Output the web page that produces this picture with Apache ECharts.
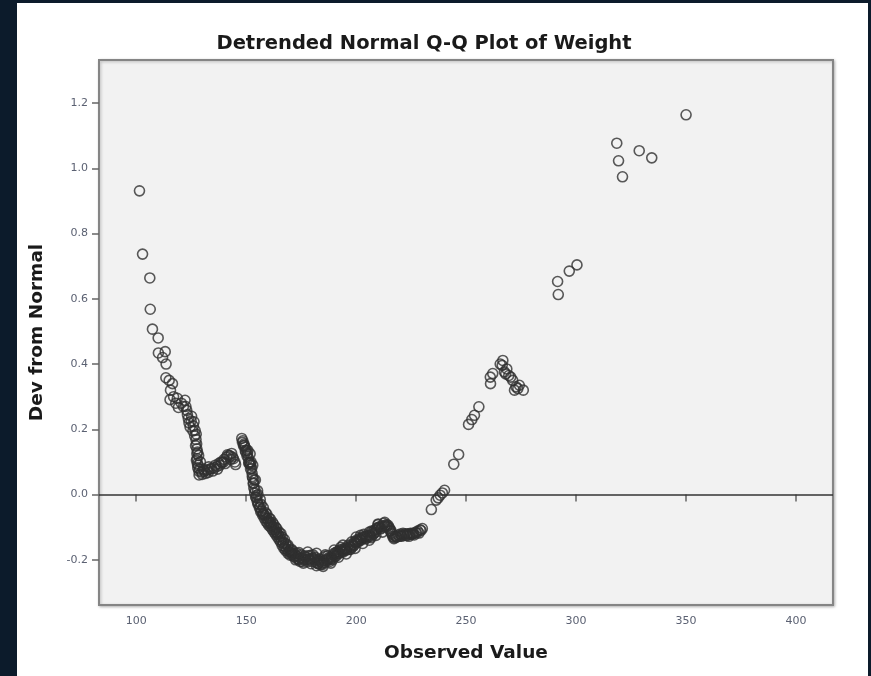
<!DOCTYPE html>
<html>
<head>
<meta charset="utf-8">
<script src="https://cdn.jsdelivr.net/npm/echarts@6/dist/echarts.min.js"></script>
<style>
  html, body { margin: 0; padding: 0; background: #0c1b2b; width: 871px; height: 676px; overflow: hidden; }
  #chart { position: absolute; left: 17px; top: 3px; width: 851px; height: 673px; background: #ffffff; }
</style>
</head>
<body>
<div id="chart"></div>
<script>
// Observed weights (x) and deviation from normal (y)
const observedValues = [
  101.5, 102.9, 106.2, 106.4, 107.4, 110.0, 110.1, 113.2, 113.6, 113.5, 115.0, 115.6, 115.4, 117.0, 118.7,
  119.2, 120.5, 122.2, 123.0, 123.7, 124.5, 125.2, 126.3, 126.8, 127.2,
  127.5, 127.6, 127.6, 127.7, 127.8, 128.0, 128.5, 129.8, 131.0, 132.3, 133.5, 134.3, 135.5, 136.8, 138.1,
  139.0, 140.0, 141.1, 142.2, 143.4, 144.2, 144.9,
  148.0, 148.5, 149.0, 149.5, 150.2, 150.6, 151.0, 151.5, 152.0, 152.5, 152.7, 153.0, 153.2, 153.5, 153.9,
  154.3, 155.0, 155.6, 156.3, 157.0, 157.8, 158.5, 159.3, 160.0, 160.8, 161.5, 162.3, 163.0, 163.8, 164.5,
  165.3, 166.0, 166.8, 167.6, 168.5, 169.5, 170.4, 171.4, 172.5, 173.6, 174.8, 175.9, 177.0, 178.2, 179.3,
  180.4, 181.4, 182.3, 183.2, 184.2, 185.3, 186.5, 187.6, 188.8, 189.8, 190.7, 191.6, 192.6, 193.7, 194.8,
  196.0, 197.1, 198.2, 199.3, 200.4, 201.6, 202.8, 203.9, 205.0, 206.2, 207.3, 208.4, 209.5, 210.7, 211.9,
  213.2, 214.5, 215.3, 216.0, 216.7, 217.8, 219.0, 220.1, 221.3, 222.4, 223.5, 224.7, 225.8, 227.0, 228.0,
  229.1, 230.1,
  149.2, 151.8, 154.8, 158.0, 161.0, 164.0, 167.0, 170.0, 173.0, 176.5, 180.0, 183.5, 187.0, 190.0, 193.0,
  196.5, 200.0, 203.5, 207.0, 210.0, 214.0, 218.5, 223.0,
  150.8, 152.2, 153.6, 155.4, 156.8, 158.8, 160.4, 162.0, 163.4, 165.0, 166.4, 168.0, 169.0, 171.0, 172.0,
  174.0, 175.0, 177.5, 179.0, 181.0, 182.8, 184.8, 186.0, 188.0, 189.3, 191.0, 192.2, 194.2, 195.5, 197.5,
  199.0, 201.0, 202.2, 204.5, 206.8, 208.9, 211.2, 212.5, 215.6, 217.2, 220.7, 224.0, 226.4, 228.6,
  148.8, 149.6, 150.4, 151.2, 152.0, 152.8, 153.4, 154.0, 154.6, 155.3, 156.0, 156.6, 157.4, 158.2, 159.0,
  159.7, 160.4, 161.2, 162.0, 162.7, 163.4, 164.2, 165.0, 165.7, 166.4, 167.2, 168.0, 169.0, 170.0,
  170.8, 171.8, 172.8, 173.8, 174.5, 175.5, 176.2, 177.8, 178.6, 179.8, 180.8, 181.8, 182.6, 183.8, 184.6,
  185.6, 186.8, 187.4, 188.4, 189.0, 190.3, 191.3, 192.0, 193.4, 194.5, 195.2, 196.8, 197.8, 198.8, 199.8,
  200.8, 201.8, 203.2, 204.2, 205.5, 206.5, 207.8, 208.2, 209.2, 210.2, 211.5, 212.8, 213.8, 214.9, 215.8,
  216.4, 217.5, 218.4, 219.6, 220.5, 221.8, 223.0, 224.2, 225.3, 226.0, 227.5, 229.5,
  151.8, 153.0, 154.2, 155.2, 156.4, 157.8, 159.4, 161.0, 162.6, 164.0, 165.8, 167.4, 169.0, 170.6,
  172.5, 176.0, 179.5, 182.0, 185.0, 188.5, 192.0, 195.5, 199.5, 203.0, 206.0, 209.0, 212.0,
  174.0, 178.0, 182.0, 186.0, 190.0, 194.0, 198.0, 202.0, 206.0, 210.0, 213.0,
  127.3, 127.9, 128.2, 126.0, 121.5, 118.0, 124.0, 116.5, 112.0, 130.5, 132.8, 137.5, 139.8, 142.8,
  148.3, 149.8, 151.3,
  128.8, 129.2, 128.4, 128.6, 130.0, 131.6, 133.0, 134.8, 136.0, 137.0, 138.6, 140.5, 141.5, 143.0, 143.8,
  145.2, 126.6, 127.0, 127.4, 125.8, 125.0, 123.3, 122.6,
  234.2, 236.4, 237.3, 238.2, 239.2, 240.2, 244.4, 246.6, 251.1, 252.6, 253.8, 255.8, 261.1, 261.0, 262.1,
  266.7, 266.4, 267.4, 268.5, 269.4, 270.3, 271.2, 272.0, 272.7, 274.2, 276.0, 265.5, 268.0, 273.5,
  291.9, 291.6, 296.9, 300.4, 318.5, 319.3, 321.1, 328.7, 334.4, 350.0
];
const devFromNormal = [
  0.931, 0.737, 0.664, 0.568, 0.507, 0.480, 0.434, 0.438, 0.400, 0.358, 0.350, 0.320, 0.291, 0.300, 0.295,
  0.267, 0.280, 0.289, 0.258, 0.233, 0.207, 0.240, 0.223, 0.197, 0.169,
  0.155, 0.140, 0.125, 0.110, 0.095, 0.082, 0.072, 0.069, 0.072, 0.075, 0.078, 0.080, 0.082, 0.086, 0.090,
  0.098, 0.108, 0.115, 0.120, 0.126, 0.110, 0.100,
  0.172, 0.165, 0.155, 0.145, 0.136, 0.125, 0.112, 0.100, 0.090, 0.080, 0.065, 0.050, 0.034, 0.020, 0.005,
  -0.007, -0.020, -0.030, -0.038, -0.050, -0.058, -0.065, -0.073, -0.080, -0.088, -0.094, -0.099, -0.108, -0.115, -0.122,
  -0.129, -0.140, -0.150, -0.160, -0.168, -0.175, -0.178, -0.182, -0.187, -0.190, -0.194, -0.196, -0.192, -0.188, -0.186,
  -0.185, -0.192, -0.200, -0.204, -0.206, -0.202, -0.198, -0.194, -0.191, -0.185, -0.178, -0.174, -0.170, -0.168, -0.165,
  -0.162, -0.160, -0.153, -0.145, -0.139, -0.134, -0.131, -0.128, -0.126, -0.124, -0.116, -0.109, -0.103, -0.099, -0.097,
  -0.095, -0.094, -0.105, -0.118, -0.129, -0.127, -0.124, -0.121, -0.119, -0.120, -0.120, -0.119, -0.119, -0.116, -0.112,
  -0.108, -0.104,
  0.150, 0.095, -0.002, -0.060, -0.085, -0.118, -0.146, -0.170, -0.180, -0.188, -0.195, -0.198, -0.188, -0.180, -0.162,
  -0.155, -0.130, -0.122, -0.112, -0.092, -0.098, -0.130, -0.126,
  0.135, 0.100, 0.045, 0.000, -0.030, -0.055, -0.072, -0.085, -0.100, -0.115, -0.130, -0.150, -0.160, -0.172, -0.180,
  -0.200, -0.185, -0.200, -0.196, -0.200, -0.212, -0.214, -0.190, -0.205, -0.200, -0.188, -0.180, -0.176, -0.170, -0.168,
  -0.155, -0.145, -0.140, -0.135, -0.132, -0.115, -0.105, -0.088, -0.112, -0.135, -0.128, -0.128, -0.124, -0.118,
  0.150, 0.135, 0.118, 0.098, 0.078, 0.055, 0.035, 0.015, -0.010, -0.028, -0.040, -0.052, -0.062, -0.072, -0.082,
  -0.088, -0.095, -0.100, -0.108, -0.115, -0.122, -0.130, -0.138, -0.146, -0.156, -0.165, -0.172, -0.180, -0.186,
  -0.185, -0.190, -0.195, -0.198, -0.205, -0.205, -0.200, -0.206, -0.200, -0.205, -0.195, -0.208, -0.212, -0.215, -0.210,
  -0.208, -0.203, -0.200, -0.198, -0.195, -0.190, -0.182, -0.178, -0.175, -0.172, -0.168, -0.168, -0.162, -0.158, -0.148,
  -0.142, -0.138, -0.135, -0.130, -0.130, -0.128, -0.122, -0.118, -0.108, -0.100, -0.102, -0.098, -0.092, -0.100, -0.110,
  -0.122, -0.132, -0.130, -0.128, -0.125, -0.124, -0.124, -0.122, -0.122, -0.120, -0.118, -0.110,
  0.125, 0.090, 0.045, 0.012, -0.015, -0.040, -0.060, -0.075, -0.092, -0.105, -0.120, -0.138, -0.155, -0.168,
  -0.200, -0.210, -0.212, -0.218, -0.220, -0.210, -0.192, -0.182, -0.165, -0.150, -0.140, -0.125, -0.115,
  -0.178, -0.176, -0.180, -0.185, -0.170, -0.155, -0.145, -0.125, -0.115, -0.090, -0.085,
  0.185, 0.130, 0.090, 0.210, 0.270, 0.280, 0.220, 0.340, 0.420, 0.078, 0.068, 0.095, 0.100, 0.118,
  0.160, 0.130, 0.095,
  0.078, 0.100, 0.120, 0.060, 0.062, 0.065, 0.085, 0.072, 0.090, 0.078, 0.100, 0.095, 0.122, 0.108, 0.115,
  0.092, 0.180, 0.150, 0.105, 0.195, 0.225, 0.245, 0.270,
  -0.046, -0.017, -0.010, -0.002, 0.005, 0.013, 0.093, 0.123, 0.215, 0.230, 0.243, 0.269, 0.340, 0.360, 0.371,
  0.411, 0.396, 0.376, 0.385, 0.365, 0.360, 0.350, 0.320, 0.330, 0.335, 0.320, 0.400, 0.370, 0.325,
  0.613, 0.653, 0.685, 0.704, 1.077, 1.023, 0.974, 1.054, 1.032, 1.164
];
const xTickValues = [100, 150, 200, 250, 300, 350, 400];
const yTickValues = [-0.2, 0.0, 0.2, 0.4, 0.6, 0.8, 1.0, 1.2];

const points = observedValues.map((x, i) => [x, devFromNormal[i]]);

const chart = echarts.init(document.getElementById('chart'), null, { renderer: 'canvas' });
const labelStyle = { color: '#5b6172', fontSize: 11, fontFamily: 'DejaVu Sans' };
const nameStyle = { fontFamily: 'DejaVu Sans', fontWeight: 'bold', fontSize: 18.5, color: '#1a1a1a' };
chart.setOption({
  animation: false,
  title: {
    text: 'Detrended Normal Q-Q Plot of Weight',
    left: 402, textAlign: 'center', top: 26,
    textStyle: { fontFamily: 'DejaVu Sans', fontWeight: 'bold', fontSize: 19.5, color: '#1a1a1a' }
  },
  grid: {
    left: 82, right: 35, top: 57, bottom: 71,
    show: true, backgroundColor: '#f2f2f2', borderColor: '#858585', borderWidth: 2,
    shadowColor: 'rgba(0,0,0,0.25)', shadowBlur: 3, shadowOffsetX: 1, shadowOffsetY: 1
  },
  xAxis: {
    type: 'value', min: 83.1, max: 416.8,
    name: 'Observed Value', nameLocation: 'middle', nameGap: 39,
    nameTextStyle: nameStyle,
    splitLine: { show: false },
    axisLine: { show: false },
    axisTick: { show: true, length: 7, lineStyle: { color: '#666', width: 1.5 }, customValues: xTickValues },
    axisLabel: Object.assign({ margin: 11, customValues: xTickValues, formatter: v => String(v) }, labelStyle)
  },
  yAxis: {
    type: 'value', min: -0.3385, max: 1.332,
    name: 'Dev from Normal', nameLocation: 'middle', nameGap: 52, nameRotate: 90,
    nameTextStyle: nameStyle,
    splitLine: { show: false },
    axisLine: { show: false },
    axisTick: { show: true, length: 7, lineStyle: { color: '#666', width: 1.5 }, customValues: yTickValues },
    axisLabel: Object.assign({ margin: 11, customValues: yTickValues, formatter: v => v.toFixed(1) }, labelStyle)
  },
  series: [{
    type: 'scatter',
    data: points,
    symbol: 'circle',
    symbolSize: 10,
    itemStyle: { color: 'rgba(0,0,0,0)', borderColor: '#303030', borderWidth: 1.6 },
    emphasis: { disabled: true },
    markLine: {
      silent: true, symbol: ['none', 'none'], label: { show: false },
      lineStyle: { color: '#333', width: 1.5, type: 'solid' },
      data: [{ yAxis: 0 }]
    }
  }]
});
</script>
</body>
</html>
